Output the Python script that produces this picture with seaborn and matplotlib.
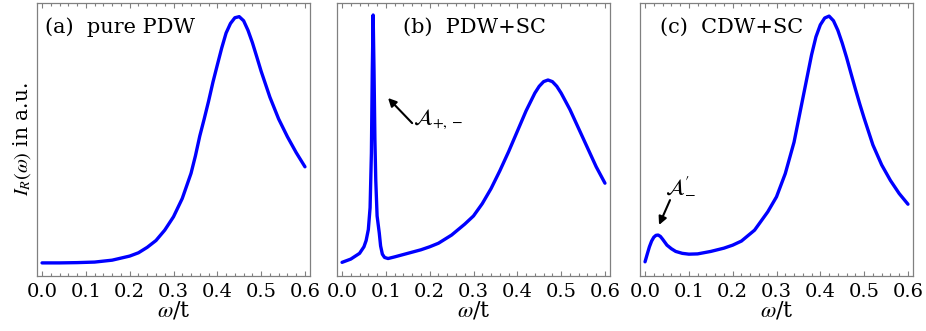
import numpy as np
import pandas as pd
import seaborn as sns
import matplotlib
matplotlib.use("Agg")
import matplotlib.pyplot as plt
from matplotlib.ticker import MultipleLocator, NullLocator

# values (intensity in arbitrary units, 0..1 of the frame height)
w_a = [0.0, 0.04, 0.08, 0.12, 0.16, 0.2, 0.22, 0.24, 0.26, 0.28, 0.3, 0.32, 0.34, 0.35,
       0.36, 0.37, 0.38, 0.39, 0.4, 0.41, 0.42, 0.43, 0.44, 0.45, 0.46, 0.47, 0.48, 0.49,
       0.5, 0.52, 0.54, 0.56, 0.58, 0.6]
I_a = [0.048, 0.048, 0.049, 0.051, 0.058, 0.073, 0.085, 0.105, 0.13, 0.168, 0.217, 0.284,
       0.376, 0.44, 0.513, 0.575, 0.64, 0.71, 0.773, 0.835, 0.89, 0.925, 0.946, 0.95,
       0.935, 0.90, 0.855, 0.803, 0.75, 0.655, 0.575, 0.51, 0.452, 0.40]

w_b = [0.0, 0.02, 0.04, 0.05, 0.055, 0.06, 0.064, 0.067, 0.069, 0.071, 0.073, 0.075, 0.077,
       0.08, 0.085, 0.088, 0.092, 0.097, 0.105, 0.12, 0.15, 0.18, 0.2, 0.22, 0.25, 0.28,
       0.3, 0.32, 0.34, 0.36, 0.38, 0.4, 0.42, 0.44, 0.45, 0.46, 0.47, 0.48, 0.49, 0.5,
       0.52, 0.54, 0.56, 0.58, 0.6]
I_b = [0.05, 0.062, 0.083, 0.107, 0.13, 0.17, 0.25, 0.45, 0.75, 0.956, 0.75, 0.5, 0.35,
       0.22, 0.157, 0.11, 0.08, 0.068, 0.064, 0.07, 0.083, 0.096, 0.107, 0.12, 0.15, 0.19,
       0.22, 0.265, 0.32, 0.385, 0.455, 0.53, 0.605, 0.67, 0.695, 0.712, 0.718, 0.712,
       0.695, 0.67, 0.61, 0.54, 0.47, 0.40, 0.34]

w_c = [0.0, 0.005, 0.01, 0.015, 0.02, 0.025, 0.03, 0.035, 0.04, 0.05, 0.06, 0.07, 0.085,
       0.1, 0.12, 0.15, 0.18, 0.2, 0.22, 0.25, 0.28, 0.3, 0.32, 0.34, 0.36, 0.38, 0.39,
       0.4, 0.41, 0.42, 0.43, 0.44, 0.45, 0.46, 0.47, 0.48, 0.49, 0.5, 0.52, 0.54, 0.56,
       0.58, 0.6]
I_c = [0.052, 0.08, 0.107, 0.128, 0.142, 0.149, 0.15, 0.145, 0.135, 0.113, 0.1, 0.09,
       0.083, 0.08, 0.081, 0.09, 0.102, 0.113, 0.128, 0.168, 0.235, 0.29, 0.375, 0.49,
       0.65, 0.81, 0.876, 0.92, 0.945, 0.952, 0.935, 0.90, 0.853, 0.80, 0.742, 0.685, 0.63,
       0.578, 0.48, 0.407, 0.35, 0.302, 0.263]

titles = ["(a)  pure PDW", "(b)  PDW+SC", "(c)  CDW+SC"]
title_x = [0.03, 0.24, 0.073]

sns.set_style("ticks")
plt.rcParams["font.family"] = ["DejaVu Serif"]
plt.rcParams["mathtext.fontset"] = "stix"
plt.rcParams["text.color"] = "black"
plt.rcParams["axes.labelcolor"] = "black"

fig = plt.figure(figsize=(9.26, 3.31), dpi=100)
lefts = [37, 337, 640]
series = [(w_a, I_a), (w_b, I_b), (w_c, I_c)]
axes = []
for i, (w, I) in enumerate(series):
    ax = fig.add_axes([lefts[i] / 926, 55 / 331, 273 / 926, 273 / 331])
    df = pd.DataFrame({"w": w, "I": I})
    sns.lineplot(data=df, x="w", y="I", ax=ax, color=(0, 0, 1), linewidth=2.4)
    ax.set_xlim(-0.0115, 0.6115)
    ax.set_ylim(0, 1)
    ax.xaxis.set_major_locator(MultipleLocator(0.1))
    ax.xaxis.set_minor_locator(MultipleLocator(0.02))
    ax.yaxis.set_major_locator(NullLocator())
    ax.set_xticklabels([f"{v:.1f}" for v in ax.get_xticks()])
    ax.tick_params(axis="x", which="both", direction="in", top=True, color="#808080",
                   labelcolor="black", labelsize=14, pad=5)
    ax.tick_params(axis="x", which="major", length=3.5, width=0.8)
    ax.tick_params(axis="x", which="minor", length=2.3, width=0.8)
    for s in ax.spines.values():
        s.set_color("#808080")
        s.set_linewidth(0.9)
    ax.set_xlabel(r"$\omega$/t", fontsize=16, labelpad=-1)
    ax.set_ylabel("")
    ax.text(title_x[i], 0.91, titles[i], transform=ax.transAxes, fontsize=15,
            ha="left", va="center")
    axes.append(ax)

axes[0].set_ylabel(r"$I_R(\omega)$ in a.u.", fontsize=14.5, labelpad=3)

arrow = dict(arrowstyle="-|>", color="black", lw=1.5, mutation_scale=12,
             shrinkA=0, shrinkB=0)
axes[1].annotate("", xy=(0.105, 0.652), xytext=(0.16, 0.56), arrowprops=arrow)
axes[1].text(0.163, 0.575, r"$\mathcal{A}_{+,-}$", fontsize=16, ha="left", va="center")
axes[2].annotate("", xy=(0.032, 0.187), xytext=(0.057, 0.278), arrowprops=arrow)
axes[2].text(0.045, 0.335, r"$\mathcal{A}_{-}^{\prime}$", fontsize=16, ha="left",
             va="center")

fig.savefig("out.png", dpi=100)
